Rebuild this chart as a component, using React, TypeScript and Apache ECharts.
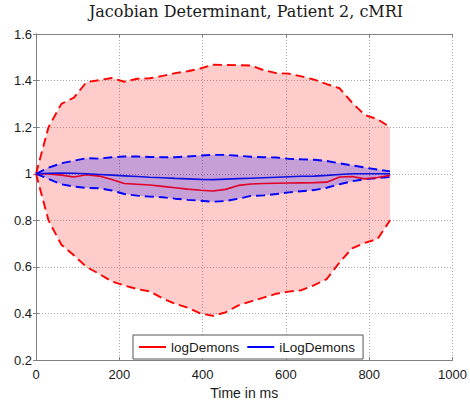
import React, { useEffect, useRef } from "react";
import * as echarts from "echarts";

// ---- data ----
const titleText = "Jacobian Determinant, Patient 2, cMRI";
const xName = "Time in ms";
const seriesNames = ["logDemons", "iLogDemons"];

const times = [0, 30, 61, 91, 121, 152, 182, 212, 243, 273, 304, 334, 364, 395, 425, 455, 486, 516, 546, 577, 607, 637, 668, 698, 729, 759, 789, 820, 850];

const logMean = [1.0, 0.999, 0.994, 0.986, 0.996, 0.99, 0.975, 0.958, 0.955, 0.952, 0.946, 0.94, 0.934, 0.929, 0.926, 0.933, 0.95, 0.956, 0.958, 0.959, 0.96, 0.961, 0.962, 0.964, 0.986, 0.988, 0.978, 0.984, 0.993];
const logUpper = [1.0, 1.2, 1.3, 1.327, 1.393, 1.402, 1.411, 1.395, 1.408, 1.41, 1.42, 1.432, 1.44, 1.452, 1.468, 1.467, 1.466, 1.465, 1.445, 1.432, 1.43, 1.418, 1.404, 1.385, 1.367, 1.305, 1.253, 1.234, 1.2];
const logLower = [1.0, 0.8, 0.695, 0.65, 0.6, 0.57, 0.538, 0.52, 0.505, 0.495, 0.465, 0.442, 0.425, 0.4, 0.39, 0.405, 0.435, 0.452, 0.468, 0.485, 0.494, 0.5, 0.522, 0.548, 0.62, 0.68, 0.703, 0.72, 0.8];

const iLogMean = [1.0, 1.002, 1.003, 1.002, 1.0, 0.997, 0.994, 0.991, 0.988, 0.985, 0.983, 0.98, 0.978, 0.976, 0.975, 0.977, 0.979, 0.981, 0.983, 0.985, 0.987, 0.989, 0.99, 0.993, 0.997, 1.0, 1.0, 1.0, 1.0];
const iLogUpper = [1.0, 1.026, 1.045, 1.056, 1.067, 1.065, 1.071, 1.074, 1.074, 1.072, 1.071, 1.071, 1.074, 1.078, 1.081, 1.081, 1.077, 1.073, 1.071, 1.07, 1.064, 1.062, 1.06, 1.055, 1.045, 1.036, 1.027, 1.018, 1.01];
const iLogLower = [1.0, 0.978, 0.955, 0.945, 0.939, 0.938, 0.928, 0.913, 0.906, 0.902, 0.899, 0.893, 0.888, 0.884, 0.88, 0.883, 0.893, 0.905, 0.907, 0.913, 0.92, 0.925, 0.93, 0.94, 0.955, 0.968, 0.976, 0.981, 0.986];

const xMin = 0;
const xMax = 1000;
const xStep = 200;
const yMin = 0.2;
const yMax = 1.6;
const yStep = 0.2;

// ---- styling ----
const SANS = "Liberation Sans, Arial, sans-serif";
const SERIF = "DejaVu Serif, serif";
const RED = "#ff0000";
const BLUE = "#0000ff";
const AXIS_COLOR = "#808080";

const pairs = (ys: number[]) => times.map((t, i) => [t, ys[i]]);

const band = (name: string, lower: number[], upper: number[], fill: string, z: number) => ({
  type: "custom",
  name,
  silent: true,
  z,
  data: [0],
  renderItem: (params: any, api: any) => {
    const pts: number[][] = [];
    for (let i = 0; i < times.length; i++) pts.push(api.coord([times[i], upper[i]]));
    for (let i = times.length - 1; i >= 0; i--) pts.push(api.coord([times[i], lower[i]]));
    return { type: "polygon", shape: { points: pts }, style: { fill } };
  },
});

const dashed = (name: string, ys: number[], color: string, z: number) => ({
  type: "line",
  name,
  data: pairs(ys),
  showSymbol: false,
  symbol: "none",
  silent: true,
  z,
  lineStyle: { color, width: 1.9, type: [9, 5] },
});

const solid = (name: string, ys: number[], color: string, z: number) => ({
  type: "line",
  name,
  data: pairs(ys),
  showSymbol: false,
  symbol: "none",
  silent: true,
  z,
  itemStyle: { color },
  lineStyle: { color, width: 1.6 },
});

export default function App() {
  const ref = useRef<HTMLDivElement>(null);
  useEffect(() => {
    if (!ref.current) return;
    const chart = echarts.init(ref.current, undefined, { renderer: "svg" });
    const gridAxis = {
      axisLine: { show: true, lineStyle: { color: AXIS_COLOR, width: 1 } },
      axisTick: { show: true, inside: true, length: 3, lineStyle: { color: AXIS_COLOR } },
    };
    chart.setOption({
      animation: false,
      backgroundColor: "#ffffff",
      grid: { left: 36, right: 14, top: 34, bottom: 42, containLabel: false },
      graphic: [
        {
          type: "text",
          x: 246,
          y: 11,
          style: {
            text: titleText,
            textAlign: "center",
            textVerticalAlign: "middle",
            fontFamily: SERIF,
            fontSize: 16,
            fill: "#1a1a1a",
          },
        },
      ],
      legend: {
        data: [
          { name: seriesNames[0], itemStyle: { color: RED } },
          { name: seriesNames[1], itemStyle: { color: BLUE } },
        ],
        left: 133,
        top: 335,
        orient: "horizontal",
        icon: "rect",
        itemWidth: 27,
        itemHeight: 2,
        itemGap: 8,
        padding: [5, 8, 5, 6],
        backgroundColor: "#ffffff",
        borderColor: "#555555",
        borderWidth: 1,
        borderRadius: 0,
        textStyle: { fontFamily: SANS, fontSize: 13.5, color: "#1a1a1a", padding: [0, 0, 0, 0] },
      },
      xAxis: [
        {
          type: "value",
          min: xMin,
          max: xMax,
          interval: xStep,
          name: xName,
          nameLocation: "middle",
          nameGap: 25,
          nameTextStyle: { fontFamily: SANS, fontSize: 14, color: "#1a1a1a" },
          ...gridAxis,
          axisLabel: {
            fontFamily: SANS,
            fontSize: 13,
            color: "#1a1a1a",
            margin: 8,
            formatter: (v: number) => String(v),
          },
          splitLine: { show: true, lineStyle: { color: "#a8a8a8", type: [1, 2], width: 1 } },
        },
        {
          type: "value",
          position: "top",
          min: xMin,
          max: xMax,
          interval: xStep,
          ...gridAxis,
          axisLabel: { show: false },
          splitLine: { show: false },
        },
      ],
      yAxis: [
        {
          type: "value",
          min: yMin,
          max: yMax,
          interval: yStep,
          ...gridAxis,
          axisLabel: {
            fontFamily: SANS,
            fontSize: 13,
            color: "#1a1a1a",
            margin: 4,
            formatter: (v: number) => String(parseFloat(v.toFixed(2))),
          },
          splitLine: { show: true, lineStyle: { color: "#a8a8a8", type: [1, 2], width: 1 } },
        },
        {
          type: "value",
          position: "right",
          min: yMin,
          max: yMax,
          interval: yStep,
          ...gridAxis,
          axisLabel: { show: false },
          splitLine: { show: false },
        },
      ],
      series: [
        band("logBand", logLower, logUpper, "rgba(255,0,0,0.2)", 1),
        band("iLogBand", iLogLower, iLogUpper, "rgba(0,0,255,0.22)", 2),
        dashed("logUpper", logUpper, RED, 3),
        dashed("logLower", logLower, RED, 3),
        dashed("iLogUpper", iLogUpper, BLUE, 4),
        dashed("iLogLower", iLogLower, BLUE, 4),
        solid(seriesNames[0], logMean, "#e0002a", 5),
        solid(seriesNames[1], iLogMean, "#1010e0", 6),
      ],
    });
    return () => chart.dispose();
  }, []);
  return (
    <div
      ref={ref}
      style={{ position: "fixed", left: 0, top: 0, width: 470, height: 405, background: "#fff" }}
    />
  );
}
